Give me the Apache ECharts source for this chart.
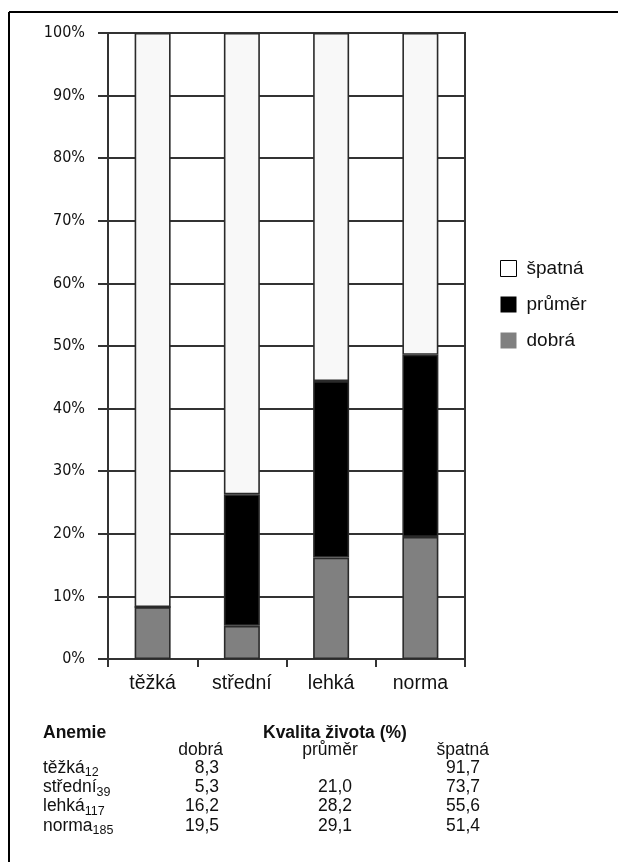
<!DOCTYPE html>
<html>
<head>
<meta charset="utf-8">
<script src="https://cdn.jsdelivr.net/npm/echarts@6/dist/echarts.min.js"></script>
<style>
  html, body { margin: 0; padding: 0; background: #fff; }
  #chart { width: 618px; height: 862px; }
</style>
</head>
<body>
<div id="chart"></div>
<script>
// Anemie vs. kvalita života (%)
const categories = ["těžká", "střední", "lehká", "norma"];
const counts     = [12, 39, 117, 185];
const dobra      = [8.3, 5.3, 16.2, 19.5];
const prumer     = [null, 21.0, 28.2, 29.1];
const spatna     = [91.7, 73.7, 55.6, 51.4];
const yTicks     = [0, 100, 10]; // min, max, interval

const FONT  = "'Liberation Sans', Arial, sans-serif";
const YFONT = "'DejaVu Sans Condensed', 'DejaVu Sans', sans-serif";
const LINE  = "#333";

const fmt = v => v == null ? "" : v.toFixed(1).replace(".", ",");

const chart = echarts.init(document.getElementById("chart"), null, { renderer: "canvas" });

const barStyle = fill => ({ color: fill, borderColor: "#2a2a2a", borderWidth: 1.6 });

// table below the chart, built from the data arrays
const colRight = [219, 352, 480];
const rowY0 = 768, rowStep = 19.3;
const tableEls = [
  { type: "text", left: 43, top: 724, style: { text: "Anemie", font: `bold 17.5px ${FONT}`, fill: "#111" } },
  { type: "text", left: 263, top: 724, style: { text: "Kvalita života (%)", font: `bold 17.5px ${FONT}`, fill: "#111" } },
  { type: "text", x: 223, y: 741, style: { text: "dobrá", font: `17.5px ${FONT}`, fill: "#111", align: "right" } },
  { type: "text", x: 330, y: 741, style: { text: "průměr", font: `17.5px ${FONT}`, fill: "#111", align: "center" } },
  { type: "text", x: 489, y: 741, style: { text: "špatná", font: `17.5px ${FONT}`, fill: "#111", align: "right" } },
];
categories.forEach((c, i) => {
  const y = rowY0 + i * rowStep;
  tableEls.push({
    type: "text", x: 43, y: y, style: {
      text: `{m|${c}}{s|${counts[i]}}`, fill: "#111", verticalAlign: "middle",
      rich: {
        m: { fontFamily: FONT, fontSize: 17.5, lineHeight: 20 },
        s: { fontFamily: FONT, fontSize: 12.5, padding: [10, 0, 0, 0] },
      },
    },
  });
  [dobra[i], prumer[i], spatna[i]].forEach((v, k) => {
    tableEls.push({
      type: "text", x: colRight[k], y: y, style: {
        text: fmt(v), font: `17.5px ${FONT}`, fill: "#111", align: "right", verticalAlign: "middle",
      },
    });
  });
});

chart.setOption({
  backgroundColor: "#fff",
  animation: false,
  grid: { left: 108, right: 153, top: 33, bottom: 203, show: true, borderColor: LINE, borderWidth: 2 },
  legend: {
    orient: "vertical", left: 495, top: 254,
    itemWidth: 16, itemHeight: 16, itemGap: 17,
    icon: "rect",
    textStyle: { fontFamily: FONT, fontSize: 19, color: "#111", padding: [0, 0, 0, 5] },
    data: [
      { name: "špatná", itemStyle: { color: "#fff", borderColor: "#000", borderWidth: 1 } },
      { name: "průměr", itemStyle: { borderWidth: 0 } },
      { name: "dobrá",  itemStyle: { borderWidth: 0 } },
    ],
  },
  xAxis: {
    type: "category", data: categories, boundaryGap: true,
    axisLine: { lineStyle: { color: LINE, width: 2 } },
    axisTick: { show: true, length: 8, lineStyle: { color: LINE, width: 2 } },
    axisLabel: { fontFamily: FONT, fontSize: 19.5, color: "#111", margin: 15 },
    splitLine: { show: false },
  },
  yAxis: {
    type: "value", min: yTicks[0], max: yTicks[1], interval: yTicks[2],
    axisLine: { show: true, lineStyle: { color: LINE, width: 2 } },
    axisTick: { show: true, length: 10, lineStyle: { color: LINE, width: 2 } },
    axisLabel: { formatter: "{value}%", fontFamily: YFONT, fontSize: 16, color: "#111", margin: 23 },
    splitLine: { lineStyle: { color: LINE, width: 2 } },
  },
  series: [
    { name: "dobrá",  type: "bar", stack: "q", barWidth: 36, data: dobra, itemStyle: barStyle("#808080") },
    { name: "průměr", type: "bar", stack: "q", barWidth: 36, data: prumer.map(v => v ?? 0), itemStyle: barStyle("#000") },
    { name: "špatná", type: "bar", stack: "q", barWidth: 36, data: spatna, itemStyle: barStyle("#f8f8f8") },
  ],
  graphic: [
    { type: "line", shape: { x1: 9, y1: 12, x2: 618, y2: 12 }, style: { stroke: "#000", lineWidth: 2 } },
    { type: "line", shape: { x1: 9, y1: 12, x2: 9, y2: 862 }, style: { stroke: "#000", lineWidth: 2 } },
    ...tableEls,
  ],
});
</script>
</body>
</html>
